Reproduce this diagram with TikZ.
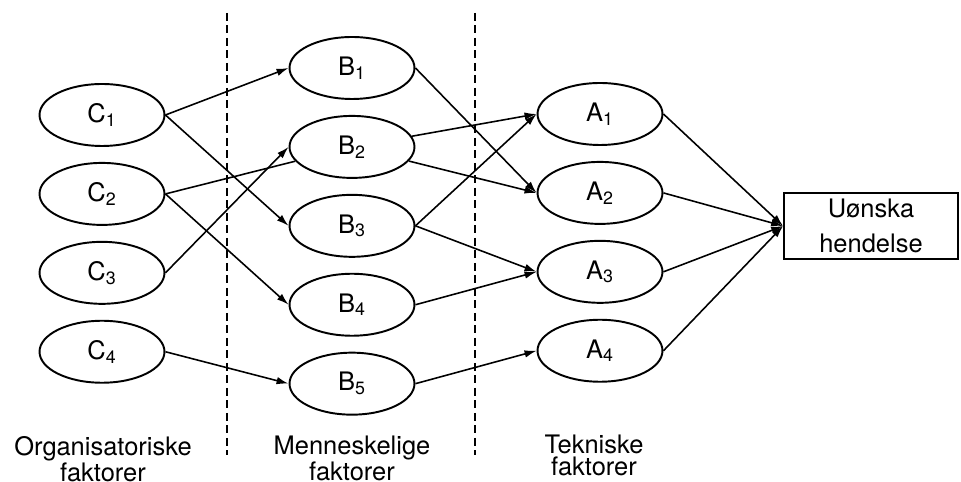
\documentclass[tikz,border=0pt]{standalone}
\usepackage{fontspec}
\setmainfont{TeX Gyre Heros}
\usetikzlibrary{shapes.geometric, arrows.meta, positioning}

\begin{document}
\begin{tikzpicture}[
        x=0.02cm, y=-0.02cm,
        node distance=0.3cm and 1cm,
        factor/.style={ellipse, draw, line width=1.1pt, minimum width=2.5cm, minimum height=1.24cm, inner sep=0pt, font=\fontsize{14.5}{17}\selectfont},
        group/.style={align=center, inner sep=0pt, anchor=north, font=\fontsize{14.5}{12.5}\selectfont},
        arrow/.style={-{Latex[length=2.4mm, width=1.5mm]}, line width=0.9pt},
        plain/.style={line width=0.9pt},
        divider/.style={line width=0.9pt, dash pattern=on 0.16cm off 0.09cm}
    ]
    \useasboundingbox (0,0) rectangle (961,482);

    % Column borders
    \draw[divider] (227,13) -- (227,455);
    \draw[divider] (475,13) -- (475,455);

    % Organisational factors
    \node[factor] (C1) at (102,115) {C\textsubscript{1}};
    \node[factor, below=of C1] (C2) {C\textsubscript{2}};
    \node[factor, below=of C2] (C3) {C\textsubscript{3}};
    \node[factor, below=of C3] (C4) {C\textsubscript{4}};

    % Human factors
    \node[factor] (B1) at (352,68) {B\textsubscript{1}};
    \node[factor, below=of B1] (B2) {B\textsubscript{2}};
    \node[factor, below=of B2] (B3) {B\textsubscript{3}};
    \node[factor, below=of B3] (B4) {B\textsubscript{4}};
    \node[factor, below=of B4] (B5) {B\textsubscript{5}};

    % Technical factors
    \node[factor] (A1) at (600,114) {A\textsubscript{1}};
    \node[factor, below=of A1] (A2) {A\textsubscript{2}};
    \node[factor, below=of A2] (A3) {A\textsubscript{3}};
    \node[factor, below=of A3] (A4) {A\textsubscript{4}};

    % Top event
    \node[draw, line width=1pt, minimum width=3.48cm, minimum height=1.28cm, align=center, font=\fontsize{14.5}{20}\selectfont] (event) at (871,226) {Uønska\\hendelse};

    % Column captions
    \node[group] (org) at (103,436) {Organisatoriske\\faktorer};
    \node[group] (hum) at (352,436) {Menneskelige\\faktorer};
    \node[group] (tek) at (594,435) {Tekniske\\faktorer};

    % Edges C -> B
    \draw[arrow] (C1.east) -- (B1.west);
    \draw[arrow] (C1.east) -- (B3.west);
    \draw[plain] (C2.east) -- (B2);
    \draw[arrow] (C2.east) -- (B4.west);
    \draw[arrow] (C3.east) -- (B2.west);
    \draw[arrow] (C4.east) -- (B5.west);

    % Edges B -> A
    \draw[arrow] (B1.east) -- (A2.west);
    \draw[arrow] (B2) -- (A1.west);
    \draw[arrow] (B2) -- (A2.west);
    \draw[arrow] (B3.east) -- (A1.west);
    \draw[arrow] (B3.east) -- (A3.west);
    \draw[arrow] (B4.east) -- (A3.west);
    \draw[arrow] (B5.east) -- (A4.west);

    % Edges A -> event
    \draw[arrow] (A1.east) -- (event.west);
    \draw[arrow] (A2.east) -- (event.west);
    \draw[arrow] (A3.east) -- (event.west);
    \draw[arrow] (A4.east) -- (event.west);
\end{tikzpicture}
\end{document}
